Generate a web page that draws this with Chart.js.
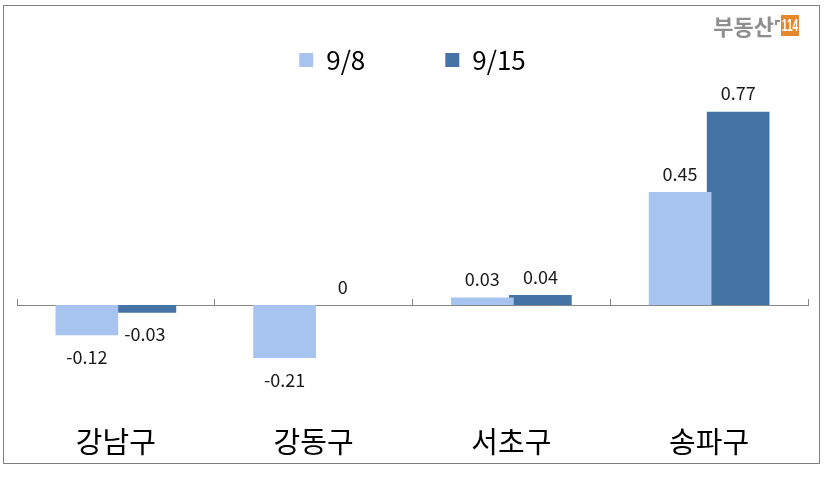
<!DOCTYPE html>
<html>
<head>
<meta charset="utf-8">
<script src="https://cdn.jsdelivr.net/npm/chart.js@4/dist/chart.umd.min.js"></script>
<style>
  html, body { margin: 0; padding: 0; background: #fff; }
  #wrap { position: relative; width: 825px; height: 491px; }
</style>
</head>
<body>
<div id="wrap"><canvas id="c" width="825" height="491"></canvas></div>
<script>
const categories = ['강남구', '강동구', '서초구', '송파구'];
const seriesNames = ['9/8', '9/15'];
const values98 = [-0.12, -0.21, 0.03, 0.45];
const values915 = [-0.03, 0, 0.04, 0.77];
const seriesColors = ['#A7C3EF', '#4673A6'];

const FONT = "'Noto Sans CJK KR', 'Noto Sans', sans-serif";

const framePlugin = {
  id: 'frame',
  beforeDraw(chart) {
    const ctx = chart.ctx;
    ctx.save();
    ctx.fillStyle = '#ffffff';
    ctx.fillRect(0, 0, chart.width, chart.height);
    ctx.strokeStyle = '#808080';
    ctx.lineWidth = 1;
    ctx.strokeRect(3.5, 5.5, 816, 458);
    ctx.restore();
  },
  afterDraw(chart) {
    const ctx = chart.ctx;
    ctx.save();
    // logo
    ctx.font = "bold 22px " + FONT;
    ctx.fillStyle = '#8f8f8f';
    ctx.textBaseline = 'middle';
    ctx.textAlign = 'right';
    ctx.fillText('부동산', 774, 27);
    ctx.fillRect(775, 20, 5, 2);
    ctx.fillRect(775, 20, 2, 5);
    ctx.fillStyle = '#E5892C';
    ctx.fillRect(781, 15, 18, 21);
    ctx.fillStyle = '#ffffff';
    ctx.translate(790, 26);
    ctx.scale(0.6, 1);
    ctx.font = "bold 17px 'Liberation Sans', 'DejaVu Sans', sans-serif";
    ctx.textAlign = 'center';
    ctx.fillText('114', 0, 0);
    ctx.restore();
  }
};

const valueLabels = {
  id: 'valueLabels',
  afterDatasetsDraw(chart) {
    const ctx = chart.ctx;
    ctx.save();
    ctx.font = "18px " + FONT;
    ctx.fillStyle = '#1a1a1a';
    ctx.textAlign = 'center';
    ctx.textBaseline = 'middle';
    chart.data.datasets.forEach((ds, di) => {
      const meta = chart.getDatasetMeta(di);
      meta.data.forEach((bar, i) => {
        const v = ds.data[i];
        const y = v >= 0 ? bar.y - 18 : bar.y + 22;
        ctx.fillText(String(v), bar.x, y);
      });
    });
    ctx.restore();
  }
};

new Chart(document.getElementById('c'), {
  type: 'bar',
  data: {
    labels: categories,
    datasets: [
      { label: seriesNames[0], data: values98, backgroundColor: seriesColors[0], borderWidth: 0 },
      { label: seriesNames[1], data: values915, backgroundColor: seriesColors[1], borderWidth: 0 }
    ]
  },
  options: {
    responsive: false,
    animation: false,
    devicePixelRatio: 1,
    categoryPercentage: 0.587,
    barPercentage: 1.08,
    layout: { padding: { left: 17, right: 17, top: -33, bottom: 29 } },
    plugins: {
      tooltip: { enabled: false },
      legend: {
        position: 'top',
        labels: {
          font: { family: FONT, size: 26 },
          color: '#000',
          boxWidth: 14,
          boxHeight: 14,
          padding: 80
        }
      }
    },
    scales: {
      x: {
        type: 'category',
        position: 'bottom',
        offset: true,
        grid: { display: false, drawTicks: false },
        border: { display: false },
        ticks: { font: { family: FONT, size: 29 }, color: '#000', padding: 3 }
      },
      x2: {
        type: 'category',
        labels: categories,
        position: { y: 0 },
        offset: true,
        grid: { display: true, offset: true, drawOnChartArea: false, drawTicks: true, tickLength: -7, color: '#868686', tickColor: '#868686' },
        border: { display: true, color: '#868686', width: 1 },
        ticks: { display: false }
      },
      y: {
        display: false,
        min: -0.462,
        max: 0.884
      }
    }
  },
  plugins: [framePlugin, valueLabels]
});
</script>
</body>
</html>
